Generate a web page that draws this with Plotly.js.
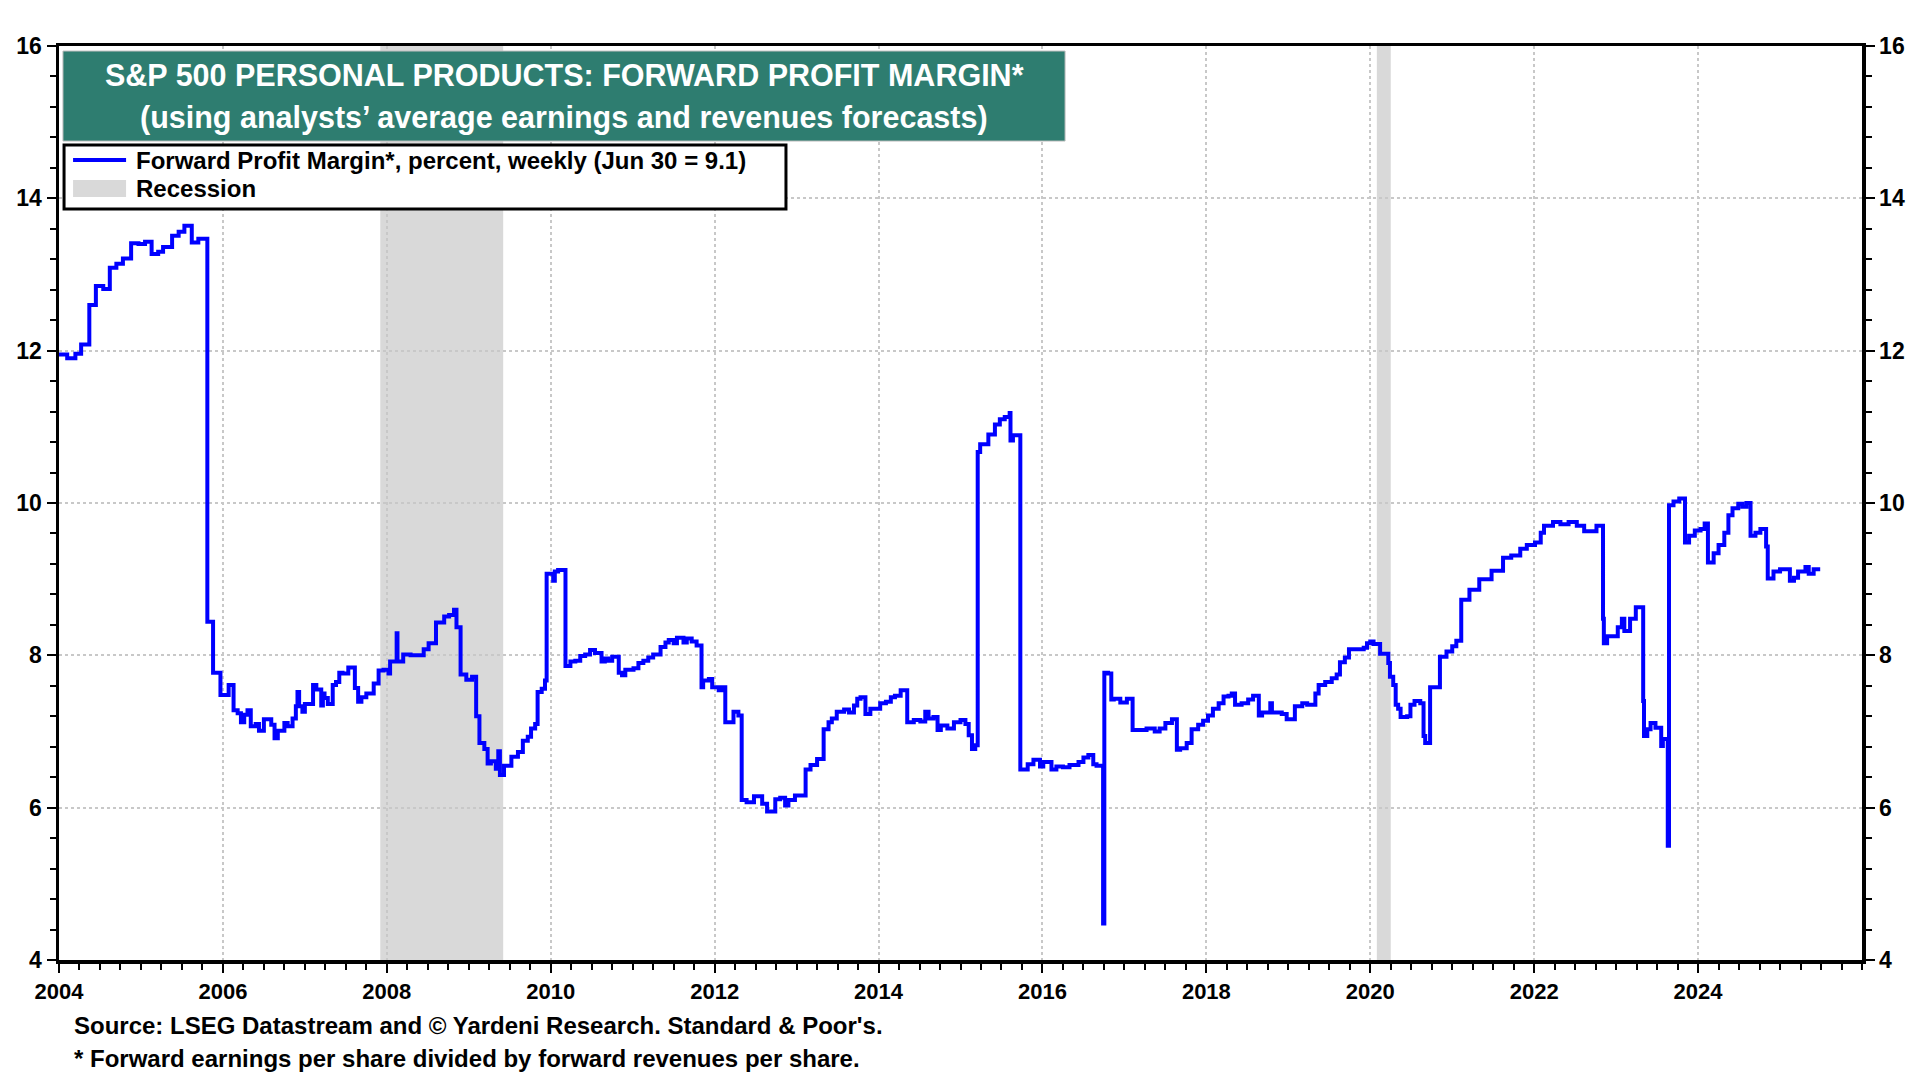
<!DOCTYPE html>
<html>
<head>
<meta charset="utf-8">
<script src="https://cdn.plot.ly/plotly-3.0.1.min.js"></script>
<style>
  html, body { margin: 0; padding: 0; background: #ffffff; }
  #chart { width: 1920px; height: 1080px; }
</style>
</head>
<body>
<div id="chart"></div>
<script>
// ---- Data (decimal years, step starts) ----
const years = [
  2004.00,2004.10,2004.20,2004.27,2004.37,2004.45,2004.54,2004.62,2004.70,2004.78,2004.88,2004.97,
  2005.05,2005.13,2005.21,2005.27,2005.38,2005.46,2005.53,2005.62,2005.70,2005.81,2005.88,2005.97,
  2006.07,2006.13,2006.18,2006.22,2006.26,2006.30,2006.34,2006.40,2006.44,2006.50,2006.59,2006.63,
  2006.67,2006.75,2006.79,2006.85,2006.89,2006.91,2006.93,2006.97,2007.00,2007.10,2007.14,2007.20,
  2007.22,2007.24,2007.28,2007.34,2007.38,2007.42,2007.46,2007.53,2007.61,2007.65,2007.69,2007.75,
  2007.84,2007.90,2007.96,2008.02,2008.04,2008.12,2008.13,2008.20,2008.29,2008.45,2008.51,2008.60,
  2008.70,2008.76,2008.82,2008.85,2008.90,2008.97,2009.04,2009.09,2009.13,2009.19,2009.23,2009.27,
  2009.33,2009.36,2009.38,2009.43,2009.52,2009.60,2009.66,2009.72,2009.76,2009.81,2009.84,2009.89,
  2009.93,2009.95,2010.03,2010.05,2010.09,2010.18,2010.24,2010.30,2010.36,2010.42,2010.48,2010.54,
  2010.62,2010.66,2010.70,2010.75,2010.83,2010.87,2010.91,2011.01,2011.07,2011.13,2011.19,2011.25,
  2011.34,2011.40,2011.44,2011.50,2011.54,2011.62,2011.66,2011.72,2011.78,2011.84,2011.86,2011.93,
  2011.97,2012.05,2012.09,2012.13,2012.23,2012.29,2012.33,2012.39,2012.48,2012.58,2012.64,2012.74,
  2012.80,2012.86,2012.90,2012.98,2013.11,2013.17,2013.25,2013.33,2013.39,2013.43,2013.49,2013.58,
  2013.64,2013.70,2013.74,2013.78,2013.84,2013.90,2014.02,2014.09,2014.15,2014.20,2014.27,2014.35,
  2014.43,2014.51,2014.57,2014.61,2014.67,2014.72,2014.76,2014.84,2014.92,2015.00,2015.06,2015.10,
  2015.14,2015.18,2015.21,2015.24,2015.34,2015.42,2015.48,2015.54,2015.60,2015.61,2015.64,2015.73,
  2015.82,2015.89,2015.97,2016.01,2016.11,2016.17,2016.25,2016.33,2016.44,2016.50,2016.56,2016.62,
  2016.66,2016.74,2016.755,2016.80,2016.84,2016.87,2016.95,2017.03,2017.10,2017.27,2017.37,2017.43,
  2017.50,2017.58,2017.64,2017.68,2017.76,2017.82,2017.90,2017.96,2018.02,2018.08,2018.15,2018.21,
  2018.27,2018.31,2018.35,2018.43,2018.51,2018.57,2018.64,2018.68,2018.78,2018.80,2018.92,2018.98,
  2019.08,2019.17,2019.23,2019.33,2019.37,2019.45,2019.53,2019.59,2019.63,2019.69,2019.74,2019.92,
  2019.96,2020.00,2020.04,2020.12,2020.22,2020.24,2020.28,2020.31,2020.34,2020.37,2020.45,2020.49,
  2020.54,2020.61,2020.65,2020.67,2020.73,2020.85,2020.93,2021.00,2021.05,2021.11,2021.21,2021.33,
  2021.48,2021.62,2021.72,2021.83,2021.91,2022.01,2022.08,2022.12,2022.23,2022.32,2022.42,2022.52,
  2022.61,2022.76,2022.84,2022.85,2022.89,2023.02,2023.07,2023.10,2023.17,2023.24,2023.33,2023.34,
  2023.38,2023.42,2023.48,2023.55,2023.57,2023.63,2023.645,2023.70,2023.77,2023.84,2023.89,2023.96,
  2024.03,2024.08,2024.12,2024.19,2024.25,2024.32,2024.37,2024.42,2024.49,2024.54,2024.59,2024.64,
  2024.70,2024.76,2024.83,2024.85,2024.92,2025.00,2025.12,2025.17,2025.22,2025.31,2025.35,2025.41,
  2025.49
];
const margin = [
  11.95,11.90,11.96,12.08,12.60,12.85,12.81,13.09,13.14,13.21,13.41,13.40,
  13.43,13.27,13.30,13.36,13.51,13.56,13.64,13.42,13.47,8.44,7.77,7.48,
  7.61,7.28,7.24,7.12,7.22,7.28,7.07,7.10,7.01,7.16,7.09,6.91,
  7.01,7.11,7.07,7.17,7.33,7.52,7.33,7.26,7.36,7.61,7.55,7.34,
  7.50,7.44,7.36,7.61,7.65,7.77,7.76,7.84,7.57,7.39,7.45,7.50,
  7.63,7.80,7.81,7.76,7.92,8.29,7.92,8.01,8.00,8.08,8.16,8.43,
  8.51,8.53,8.60,8.37,7.75,7.68,7.72,7.20,6.85,6.77,6.58,6.61,
  6.51,6.74,6.43,6.55,6.67,6.73,6.88,6.93,7.04,7.10,7.52,7.56,
  7.67,9.07,8.98,9.10,9.12,7.86,7.92,7.93,7.99,8.01,8.07,8.03,
  7.92,7.96,7.93,7.98,7.77,7.74,7.81,7.83,7.90,7.93,7.97,8.01,
  8.11,8.17,8.20,8.16,8.23,8.17,8.22,8.18,8.13,7.58,7.67,7.69,
  7.58,7.54,7.58,7.12,7.26,7.21,6.10,6.07,6.15,6.05,5.95,6.11,
  6.13,6.03,6.10,6.16,6.50,6.56,6.64,7.03,7.12,7.17,7.26,7.29,
  7.25,7.34,7.43,7.45,7.23,7.30,7.37,7.39,7.45,7.47,7.54,7.12,
  7.15,7.13,7.26,7.17,7.19,7.02,7.08,7.04,7.12,7.15,7.10,6.95,
  6.77,6.82,10.67,10.77,10.90,11.03,11.10,11.13,11.18,10.82,10.89,6.50,
  6.57,6.63,6.54,6.60,6.50,6.54,6.53,6.56,6.60,6.66,6.69,6.57,
  6.55,4.48,7.77,7.76,7.42,7.43,7.38,7.43,7.02,7.04,7.00,7.04,
  7.11,7.16,6.76,6.78,6.85,7.03,7.09,7.14,7.21,7.30,7.37,7.46,
  7.47,7.50,7.35,7.37,7.42,7.47,7.21,7.25,7.37,7.25,7.23,7.16,
  7.33,7.37,7.35,7.50,7.61,7.65,7.70,7.75,7.91,7.97,8.08,8.10,
  8.16,8.18,8.15,8.02,7.90,7.72,7.61,7.35,7.30,7.19,7.20,7.35,
  7.40,7.37,6.94,6.85,7.58,7.98,8.05,8.12,8.19,8.73,8.86,9.00,
  9.11,9.28,9.31,9.40,9.45,9.48,9.61,9.70,9.75,9.72,9.75,9.70,
  9.63,9.70,8.48,8.16,8.25,8.37,8.48,8.32,8.48,8.63,7.40,6.94,
  7.03,7.11,7.05,6.81,6.90,5.50,9.97,10.02,10.06,9.48,9.57,9.64,
  9.66,9.73,9.22,9.34,9.45,9.61,9.84,9.93,9.99,9.95,10.00,9.57,
  9.61,9.66,9.43,9.01,9.10,9.13,8.98,9.02,9.10,9.16,9.07,9.13,
  9.13
];
const recessionStart = [2007.92, 2020.08];
const recessionEnd   = [2009.42, 2020.25];
const xRange = [2004, 2026];
const yRange = [4, 16];
const xTickVals = [2004, 2006, 2008, 2010, 2012, 2014, 2016, 2018, 2020, 2022, 2024];
const xTickText = ["2004", "2006", "2008", "2010", "2012", "2014", "2016", "2018", "2020", "2022", "2024"];
const yTickVals = [4, 6, 8, 10, 12, 14, 16];

const titleLine1 = "S&P 500 PERSONAL PRODUCTS: FORWARD PROFIT MARGIN*";
const titleLine2 = "(using analysts’ average earnings and revenues forecasts)";
const legendLine = "Forward Profit Margin*, percent, weekly (Jun 30 = 9.1)";
const legendRec = "Recession";
const source1 = "Source: LSEG Datastream and © Yardeni Research. Standard & Poor's.";
const source2 = "* Forward earnings per share divided by forward revenues per share.";

// ---- Styles ----
const FONT = 'Arial, "Liberation Sans", sans-serif';
const BLUE = '#0000FF';
const TEAL = '#2E7D70';
const REC = '#D9D9D9';
const GRID = '#C8C8C8';

const traces = [
  {
    x: years, y: margin, type: 'scatter', mode: 'lines',
    line: { color: BLUE, width: 4, shape: 'hv' },
    name: legendLine, hoverinfo: 'x+y'
  },
  {
    x: xRange, y: yRange, type: 'scatter', mode: 'markers',
    marker: { opacity: 0 }, yaxis: 'y2', hoverinfo: 'skip', showlegend: false
  }
];

const shapes = [];
recessionStart.forEach((s, i) => {
  shapes.push({
    type: 'rect', xref: 'x', yref: 'paper', x0: s, x1: recessionEnd[i], y0: 0, y1: 1,
    fillcolor: REC, line: { width: 0 }, layer: 'below'
  });
});
// title box
shapes.push({ type: 'rect', xref: 'paper', yref: 'paper', x0: 0.0022, x1: 0.558, y0: 0.896, y1: 0.9945,
  fillcolor: TEAL, line: { color: '#BFBFBF', width: 1 }, layer: 'above' });
// legend box
shapes.push({ type: 'rect', xref: 'paper', yref: 'paper', x0: 0.0028, x1: 0.4032, y0: 0.8217, y1: 0.8917,
  fillcolor: '#FFFFFF', line: { color: '#000000', width: 3 }, layer: 'above' });
// legend line sample
shapes.push({ type: 'line', xref: 'paper', yref: 'paper', x0: 0.0078, x1: 0.0372, y0: 0.8753, y1: 0.8753,
  line: { color: BLUE, width: 4 }, layer: 'above' });
// legend recession swatch
shapes.push({ type: 'rect', xref: 'paper', yref: 'paper', x0: 0.0078, x1: 0.0372, y0: 0.8348, y1: 0.8534,
  fillcolor: REC, line: { width: 0 }, layer: 'above' });

const annotations = [
  { text: titleLine1, xref: 'paper', yref: 'paper', x: 0.2801, y: 0.968, xanchor: 'center', yanchor: 'middle',
    showarrow: false, font: { family: FONT, size: 30.5, color: '#FFFFFF', weight: 'bold' } },
  { text: titleLine2, xref: 'paper', yref: 'paper', x: 0.2801, y: 0.9215, xanchor: 'center', yanchor: 'middle',
    showarrow: false, font: { family: FONT, size: 30.5, color: '#FFFFFF', weight: 'bold' } },
  { text: legendLine, xref: 'paper', yref: 'paper', x: 0.0416, y: 0.8742, xanchor: 'left', yanchor: 'middle',
    showarrow: false, font: { family: FONT, size: 24, color: '#000000', weight: 'bold' } },
  { text: legendRec, xref: 'paper', yref: 'paper', x: 0.0416, y: 0.8446, xanchor: 'left', yanchor: 'middle',
    showarrow: false, font: { family: FONT, size: 24, color: '#000000', weight: 'bold' } },
  { text: source1, xref: 'paper', yref: 'paper', x: 0.0072, y: -0.0722, xanchor: 'left', yanchor: 'middle',
    showarrow: false, font: { family: FONT, size: 24, color: '#000000', weight: 'bold' } },
  { text: source2, xref: 'paper', yref: 'paper', x: 0.0072, y: -0.1083, xanchor: 'left', yanchor: 'middle',
    showarrow: false, font: { family: FONT, size: 24, color: '#000000', weight: 'bold' } }
];

const xTickFont = { family: FONT, size: 22, color: '#000000', weight: 'bold' };
const yTickFont = { family: FONT, size: 23, color: '#000000', weight: 'bold' };

const layout = {
  width: 1920, height: 1080,
  margin: { l: 59, r: 58, t: 46, b: 120, pad: 0 },
  paper_bgcolor: '#FFFFFF', plot_bgcolor: 'rgba(0,0,0,0)',
  showlegend: false,
  xaxis: {
    range: xRange, tickmode: 'array', tickvals: xTickVals, ticktext: xTickText,
    ticks: 'outside', ticklen: 9, tickwidth: 2, tickcolor: '#000000',
    showline: true, linewidth: 3.5, linecolor: '#000000', mirror: true,
    showgrid: true, gridcolor: GRID, gridwidth: 2, griddash: 'dot',
    zeroline: false, tickfont: xTickFont,
    minor: { tick0: 2004, dtick: 0.25, ticks: 'outside', ticklen: 6, tickwidth: 2, tickcolor: '#000000', showgrid: false }
  },
  yaxis: {
    range: yRange, tickmode: 'array', tickvals: yTickVals,
    ticks: 'outside', ticklen: 9, tickwidth: 2, tickcolor: '#000000',
    showline: true, linewidth: 3.5, linecolor: '#000000',
    showgrid: true, gridcolor: GRID, gridwidth: 2, griddash: 'dot',
    zeroline: false, tickfont: yTickFont,
    minor: { tick0: 4, dtick: 0.4, ticks: 'outside', ticklen: 6, tickwidth: 2, tickcolor: '#000000', showgrid: false }
  },
  yaxis2: {
    overlaying: 'y', side: 'right', range: yRange, tickmode: 'array', tickvals: yTickVals,
    ticks: 'outside', ticklen: 9, tickwidth: 2, tickcolor: '#000000',
    showline: true, linewidth: 3.5, linecolor: '#000000',
    showgrid: false, zeroline: false, tickfont: yTickFont,
    minor: { tick0: 4, dtick: 0.4, ticks: 'outside', ticklen: 6, tickwidth: 2, tickcolor: '#000000', showgrid: false }
  },
  shapes: shapes,
  annotations: annotations
};

Plotly.newPlot('chart', traces, layout, { displayModeBar: false, staticPlot: true });
</script>
</body>
</html>
